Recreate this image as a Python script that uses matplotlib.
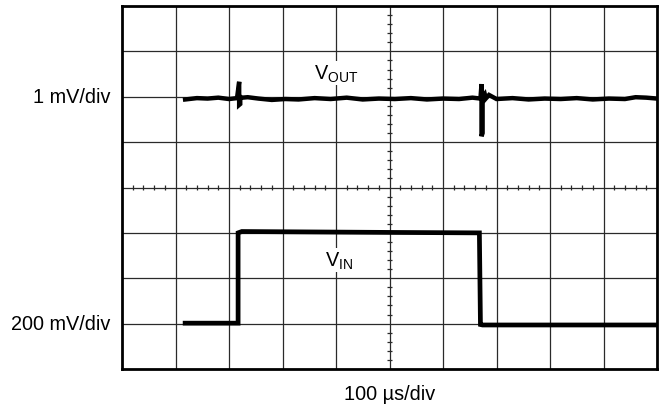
import matplotlib.pyplot as plt
import numpy as np

plt.rcParams['font.family'] = ['Liberation Sans', 'DejaVu Sans']
plt.rcParams['mathtext.fontset'] = 'custom'
plt.rcParams['mathtext.rm'] = 'Liberation Sans'

# ---------- data (in divisions) ----------
vout_t = [1.18, 1.40, 1.60, 1.80, 2.00, 2.15, 2.19, 2.19, 2.21, 2.21, 2.25,
          2.35, 2.55, 2.80, 3.05, 3.30, 3.60, 3.90, 4.20, 4.50, 4.80, 5.10,
          5.40, 5.70, 6.00, 6.30, 6.55, 6.70, 6.72, 6.72, 6.74, 6.74, 6.78,
          6.80, 6.86, 7.00, 7.30, 7.60, 7.90, 8.20, 8.50, 8.80, 9.10, 9.40,
          9.60, 9.80, 10.0]
vout_v = [5.94, 5.97, 5.96, 5.98, 5.95, 5.97, 6.33, 5.82, 5.84, 6.00, 5.98,
          5.99, 5.96, 5.93, 5.95, 5.94, 5.97, 5.95, 5.98, 5.94, 5.96, 5.95,
          5.97, 5.94, 5.96, 5.95, 5.98, 5.96, 6.28, 5.13, 5.20, 6.00, 6.06,
          5.96, 6.04, 5.95, 5.97, 5.94, 5.96, 5.95, 5.97, 5.94, 5.96, 5.95,
          5.99, 5.98, 5.96]

vin_t = [1.18, 2.17, 2.17, 2.24, 5.00, 6.68, 6.70, 6.74, 10.0]
vin_v = [1.01, 1.01, 3.00, 3.03, 3.01, 3.00, 0.98, 0.97, 0.97]

ylabels = ['1 mV/div', '200 mV/div']
ylabel_pos = [6, 1]
xlabel = '100 \u00b5s/div'

# ---------- figure ----------
fig = plt.figure(figsize=(6.61, 4.10), dpi=100)
ax = fig.add_axes([122 / 661, 40 / 410, 535 / 661, 363 / 410])
ax.set_xlim(0, 10)
ax.set_ylim(0, 8)

# graticule
for x in range(1, 10):
    ax.axvline(x, color='#2a2a2a', lw=0.9, zorder=1)
for y in range(1, 8):
    ax.axhline(y, color='#2a2a2a', lw=0.9, zorder=1)

# minor ticks on the centre lines
minor_x = [v for v in np.arange(0.2, 10, 0.2) if abs(v - round(v)) > 1e-6]
minor_y = [v for v in np.arange(0.2, 8, 0.2) if abs(v - round(v)) > 1e-6]
ax.vlines(minor_x, 4 - 0.066, 4 + 0.066, color='#2a2a2a', lw=0.9, zorder=1)
ax.hlines(minor_y, 5 - 0.056, 5 + 0.056, color='#2a2a2a', lw=0.9, zorder=1)

# traces
ax.plot(vout_t, vout_v, color='black', lw=3.2, solid_joinstyle='miter', zorder=3)
ax.plot(vin_t, vin_v, color='black', lw=3.4, solid_joinstyle='miter', zorder=3)

# trace labels
box = dict(facecolor='white', edgecolor='none', pad=1)
ax.text(4.0, 6.52, r'V$_{\rm OUT}$', fontsize=14.3, ha='center', va='center',
        bbox=box, zorder=2)
ax.text(4.05, 2.4, r'V$_{\rm IN}$', fontsize=14.3, ha='center', va='center',
        bbox=box, zorder=2)

# channel scales
for lab, pos in zip(ylabels, ylabel_pos):
    ax.text(-0.22, pos, lab, fontsize=14.3, ha='right', va='center')
ax.text(5, -0.55, xlabel, fontsize=14.3, ha='center', va='center')

ax.set_xticks([])
ax.set_yticks([])
for s in ax.spines.values():
    s.set_linewidth(2)

fig.savefig('out.png', dpi=100)
